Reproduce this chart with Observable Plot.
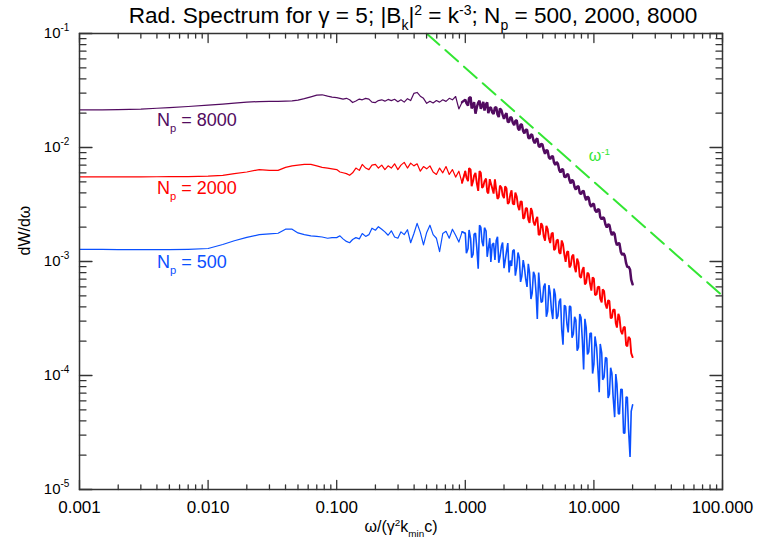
<!DOCTYPE html>
<html><head><meta charset="utf-8">
<script src="https://cdn.jsdelivr.net/npm/d3@7"></script>
<script src="https://cdn.jsdelivr.net/npm/@observablehq/plot@0.6"></script>
<style>body{margin:0;background:#fff;} svg{display:block;}</style>
</head><body><div id="chart"></div>
<script>
// ---- data ----
const omega = [
 0.001,0.0015,0.002,0.003,0.004,0.005,0.007,0.01,0.013,0.016,0.02,0.025,0.03,0.035,0.04,0.045,0.05,0.056,0.063,0.07,0.077,0.085,0.092,
 0.100,0.106,0.112,0.119,0.126,0.133,0.141,0.150,0.158,0.168,0.178,0.188,0.200,0.211,0.224,0.237,0.251,0.266,0.282,0.299,0.316,0.335,0.355,0.376,0.398,0.422,0.447,0.473,0.501,0.531,0.562,0.596,0.631,0.668,0.708,0.750,0.794,0.841,0.891,0.944,
 1.00,1.05,1.10,1.15,1.20,1.26,1.32,1.38,1.45,1.51,1.58,1.66,1.74,1.82,1.91,2.00,2.09,2.19,2.29,2.40,2.51,2.63,2.75,2.88,3.02,3.16,3.31,3.47,3.63,3.80,3.98,4.17,4.37,4.57,4.79,5.01,5.25,5.50,5.75,6.03,6.31,6.61,6.92,7.24,7.59,7.94,8.32,8.71,9.12,9.55,10.0,10.5,11.0,11.5,12.0,12.6,13.2,13.8,14.5,15.1,15.8,16.6,17.4,18.2,19.1,20.0
];
const dW8000 = [
 0.0214,0.0214,0.0215,0.0217,0.0221,0.0224,0.0229,0.0235,0.0240,0.0245,0.0250,0.0253,0.0254,0.0254,0.0255,0.0256,0.0260,0.0268,0.0278,0.0288,0.0290,0.0282,0.0277,
 0.0274,0.0270,0.0266,0.0270,0.0262,0.0248,0.0256,0.0266,0.0262,0.0270,0.0266,0.0250,0.0248,0.0258,0.0262,0.0255,0.0264,0.0258,0.0265,0.0252,0.0262,0.0250,0.0268,0.0258,0.0298,0.0304,0.0282,0.0270,0.0244,0.0255,0.0246,0.0258,0.0250,0.0262,0.0254,0.0270,0.0262,0.0280,0.0218,0.0250,
 0.0263,0.0233,0.0277,0.0234,0.0198,0.0247,0.0219,0.0251,0.0240,0.0200,0.0225,0.0197,0.0226,0.0185,0.0212,0.0178,0.0200,0.0168,0.0182,0.0157,0.0174,0.0142,0.0159,0.0133,0.0143,0.0120,0.0129,0.0109,0.0120,0.0101,0.0106,0.00881,0.00935,0.00791,0.00841,0.00703,0.00721,0.00603,0.00646,0.00550,0.00582,0.00484,0.00506,0.00427,0.00457,0.00389,0.00417,0.00345,0.00361,0.00302,0.00320,0.00270,0.00285,0.00234,0.00240,0.00199,0.00209,0.00170,0.00174,0.00139,0.00144,0.00114,0.00112,0.000891,0.000851,0.000631
];
const dW2000 = [
 0.00553,0.00553,0.00553,0.00553,0.00554,0.00555,0.00556,0.00560,0.00570,0.00590,0.00610,0.00640,0.00630,0.00630,0.00670,0.00690,0.00700,0.00710,0.00710,0.00690,0.00670,0.00660,0.00650,
 0.0064,0.0061,0.0060,0.0059,0.0057,0.0060,0.0066,0.0063,0.0071,0.0066,0.0064,0.0070,0.0071,0.0066,0.0070,0.0064,0.0069,0.0066,0.0072,0.0064,0.0070,0.0074,0.0066,0.0073,0.0069,0.0072,0.0062,0.0068,0.0065,0.0069,0.0061,0.0058,0.0066,0.0060,0.0068,0.0058,0.0064,0.0055,0.0062,0.0049,
 0.00621,0.00506,0.00638,0.00508,0.00600,0.00416,0.00601,0.00456,0.00535,0.00395,0.00486,0.00394,0.00422,0.00366,0.00446,0.00360,0.00439,0.00330,0.00421,0.00316,0.00372,0.00282,0.00335,0.00243,0.00293,0.00218,0.00275,0.00207,0.00246,0.00173,0.00206,0.00152,0.00192,0.00145,0.00179,0.00129,0.00156,0.00117,0.00142,0.000991,0.00123,0.000925,0.00115,0.000805,0.000979,0.000718,0.000893,0.000653,0.000776,0.000555,0.000706,0.000515,0.000603,0.000437,0.000550,0.000387,0.000449,0.000320,0.000378,0.000263,0.000325,0.000230,0.000268,0.000180,0.000210,0.000145
];
const dW500 = [
 0.00128,0.00128,0.00127,0.00127,0.00127,0.00127,0.00128,0.00130,0.00141,0.00152,0.00163,0.00172,0.00175,0.00177,0.00192,0.00192,0.00178,0.00172,0.00168,0.00166,0.00164,0.00160,0.00162,
 0.00162,0.00168,0.00158,0.00150,0.00146,0.00156,0.00162,0.00158,0.00176,0.00166,0.00172,0.00196,0.00188,0.00202,0.00192,0.00182,0.00170,0.00186,0.00164,0.00160,0.00182,0.00172,0.00190,0.00146,0.00175,0.00216,0.00180,0.00140,0.00180,0.00208,0.00172,0.00160,0.00122,0.00176,0.00184,0.00160,0.00192,0.00170,0.00148,0.00182,
 0.00177,0.00130,0.00158,0.00116,0.00178,0.000865,0.00200,0.00136,0.00185,0.00129,0.000991,0.00145,0.00153,0.000975,0.00136,0.000875,0.00122,0.000802,0.000912,0.00127,0.000887,0.00108,0.000741,0.000895,0.000598,0.000798,0.000525,0.000755,0.000313,0.000592,0.000447,0.000641,0.000366,0.000527,0.000313,0.000511,0.000333,0.000473,0.000186,0.000402,0.000239,0.000399,0.000231,0.000306,0.000177,0.000322,0.000113,0.000263,0.000161,0.000236,0.000126,0.000176,0.0000713,0.000158,0.0000966,0.000141,0.0000684,0.000105,0.0000431,0.0000847,0.000046,0.0000753,0.0000311,0.0000644,0.0000193,0.0000553
];
// extra samples in the dense (noisy) part, between the grid points above
const omegaFill = [1.02,1.07,1.12,1.17,1.23,1.29,1.35,1.41,1.48,1.55,1.62,1.70,1.78,1.86,1.95,2.04,2.14,2.24,2.34,2.45,2.57,2.69,2.82,2.95,3.09,3.24,3.39,3.55,3.72,3.89,4.07,4.27,4.47,4.68,4.90,5.13,5.37,5.62,5.89,6.17,6.46,6.76,7.08,7.41,7.76,8.13,8.51,8.91,9.33,9.77,10.2,10.7,11.2,11.7,12.3,12.9,13.5,14.1,14.8,15.5,16.2,17.0,17.8,18.6,19.5];
const dW8000Fill = [0.0245,0.0272,0.0220,0.0250,0.0226,0.0258,0.0232,0.0211,0.0249,0.0223,0.0203,0.0224,0.0195,0.0220,0.0194,0.0191,0.0167,0.0185,0.0165,0.0171,0.0147,0.0159,0.0139,0.0143,0.0122,0.0130,0.0115,0.0117,0.0103,0.0108,0.0095,0.00951,0.00817,0.0083,0.00735,0.00746,0.00637,0.00642,0.00553,0.00579,0.00516,0.00521,0.00449,0.00454,0.00400,0.00412,0.00369,0.00372,0.00315,0.00320,0.00283,0.00287,0.00245,0.00244,0.00211,0.00212,0.00185,0.00182,0.00150,0.00145,0.00121,0.00118,0.000966,0.000902,0.000692];
const dW2000Fill = [0.00548,0.00660,0.00458,0.00565,0.00483,0.00622,0.00441,0.00505,0.00410,0.00527,0.00438,0.00525,0.00354,0.00463,0.00382,0.00456,0.00320,0.00390,0.00321,0.00403,0.00305,0.00337,0.00237,0.00293,0.00233,0.00294,0.00222,0.00233,0.00171,0.00217,0.00167,0.00206,0.00159,0.00175,0.00126,0.00153,0.00120,0.00153,0.00115,0.00121,0.000887,0.00111,0.000888,0.00106,0.000739,0.000839,0.000628,0.000799,0.000641,0.000727,0.000508,0.000597,0.000473,0.000569,0.000421,0.000457,0.000319,0.000377,0.000287,0.000348,0.000246,0.000263,0.000185,0.000218,0.000157];
const dW500Fill = [0.00118,0.00189,0.00108,0.00173,0.00130,0.00208,0.00149,0.00198,0.00110,0.00160,0.00141,0.00103,0.00165,0.00110,0.00147,0.00101,0.00145,0.00102,0.00124,0.000752,0.00120,0.000663,0.00103,0.000699,0.000954,0.000469,0.000811,0.000533,0.000801,0.000438,0.000601,0.000328,0.000621,0.000370,0.000578,0.000313,0.000445,0.000253,0.000414,0.000283,0.000407,0.000215,0.000327,0.000165,0.000346,0.000205,0.000314,0.000153,0.000234,0.000104,0.000220,0.000123,0.000189,0.0000917,0.000144,0.0000635,0.000117,0.0000656,0.000103,0.0000463,0.0000759,0.0000313,0.0000647,0.0000337,0.0000484];
// omega^-1 reference line endpoints
const slopeOmega = [0.5, 100];
const slopeValue = [0.1, 0.0005];
// labels
const seriesNames = ["N_{p} = 8000", "N_{p} = 2000", "N_{p} = 500"];
const labelOmega = [0.004, 0.004, 0.004];
const labelValue = [0.0173, 0.00436, 0.00098];
const seriesColors = ["#520b60", "#ff0000", "#0a50ff"];
const xTicks = [0.001, 0.01, 0.1, 1, 10, 100];
const yTicks = [1e-5, 1e-4, 1e-3, 1e-2, 1e-1];
const titleText = "Rad. Spectrum for γ = 5; |B_{k}|^{2} = k^{-3}; N_{p} = 500, 2000, 8000";
const xLabel = "ω/(γ^{2}k_{min}c)";
const yLabel = "dW/dω";
const slopeLabel = "ω^{-1}";
const green = "#33e633";

// ---- build ----
const rows = (vals, fill) => omega.map((w, i) => ({w, v: vals[i]}))
  .concat(omegaFill.map((w, i) => ({w, v: fill[i]})))
  .sort((a, b) => a.w - b.w);
const slopeRows = slopeOmega.map((w, i) => ({w, v: slopeValue[i]}));
const labels = seriesNames.map((t, i) => ({t, w: labelOmega[i], v: labelValue[i], c: seriesColors[i]}));
const xMinor = [], yMinor = [];
for (let d = 0.001; d < 50; d *= 10) for (let m = 2; m <= 9; m++) xMinor.push(+(m * d).toPrecision(3));
for (let d = 1e-5; d < 0.05; d *= 10) for (let m = 2; m <= 9; m++) yMinor.push(+(m * d).toPrecision(3));
const axisColor = "#333";
const tickShape = {draw(ctx, l) { ctx.moveTo(0, 0); ctx.lineTo(0, -l); }};
const tick = (data, o, len) => Plot.vector(data, {...o, length: len, anchor: "start", shape: tickShape, stroke: axisColor, strokeWidth: 1.3});
// the noisy tail (omega >= ~1) is drawn a little heavier, as in the reference
const series = (vals, fill, color, wide) => {
  const r = rows(vals, fill);
  return [
    Plot.line(r.filter(d => d.w <= 1.0), {x: "w", y: "v", stroke: color, strokeWidth: 1.2}),
    Plot.line(r.filter(d => d.w >= 0.944), {x: "w", y: "v", stroke: color, strokeWidth: wide, strokeLinejoin: "miter"})
  ];
};

const plot = Plot.plot({
  width: 766, height: 539,
  marginLeft: 79, marginRight: 44, marginTop: 33, marginBottom: 50,
  style: {fontFamily: "'Liberation Sans', Arial, Helvetica, sans-serif", color: "#000", background: "#fff"},
  x: {type: "log", domain: [0.001, 100]},
  y: {type: "log", domain: [1e-5, 0.1], axis: null},
  marks: [
    ...series(dW500, dW500Fill, seriesColors[2], 1.6),
    ...series(dW2000, dW2000Fill, seriesColors[1], 1.9),
    ...series(dW8000, dW8000Fill, seriesColors[0], 2.5),
    Plot.line(slopeRows, {x: "w", y: "v", stroke: green, strokeWidth: 2, strokeDasharray: "17,8", clip: true}),
    Plot.frame({stroke: axisColor, strokeWidth: 1.5}),
    tick(xTicks, {x: d => d, y: () => 1e-5, rotate: 0}, 9),
    tick(xMinor, {x: d => d, y: () => 1e-5, rotate: 0}, 4.5),
    tick(xTicks, {x: d => d, y: () => 0.1, rotate: 180}, 9),
    tick(xMinor, {x: d => d, y: () => 0.1, rotate: 180}, 4.5),
    tick(yTicks, {x: () => 0.001, y: d => d, rotate: 90}, 12.5),
    tick(yMinor, {x: () => 0.001, y: d => d, rotate: 90}, 6.5),
    tick(yTicks, {x: () => 100, y: d => d, rotate: -90}, 12.5),
    tick(yMinor, {x: () => 100, y: d => d, rotate: -90}, 6.5),
    Plot.axisX({ticks: xTicks, tickSize: 0, tickPadding: 11, tickFormat: d3.format(".3f"), fontSize: 17, label: null}),
    Plot.text(yTicks, {y: d => d, frameAnchor: "left", text: () => "10", textAnchor: "end", dx: -19, fontSize: 15}),
    Plot.text(yTicks, {y: d => d, frameAnchor: "left", text: d => String(Math.round(Math.log10(d))), textAnchor: "start", dx: -19, dy: -6, fontSize: 10}),
    Plot.text([titleText], {text: d => d, frameAnchor: "top", lineAnchor: "middle", dx: 12, dy: -18, fontSize: 22.6}),
    Plot.text([xLabel], {text: d => d, frameAnchor: "bottom", lineAnchor: "middle", dy: 37, fontSize: 16}),
    Plot.text([yLabel], {text: d => d, frameAnchor: "left", lineAnchor: "middle", rotate: -90, dx: -55, dy: -6, fontSize: 16}),
    ...labels.map(l => Plot.text([l], {x: "w", y: "v", text: "t", fill: l.c, textAnchor: "start", fontSize: 18})),
    Plot.text([{t: slopeLabel, w: 9.1, v: 0.0085}], {x: "w", y: "v", text: "t", fill: green, textAnchor: "start", fontSize: 16})
  ]
});
document.getElementById("chart").appendChild(plot);

// turn ^{..} and _{..} into real superscript / subscript tspans
function markup(root) {
  root.querySelectorAll("text").forEach(t => {
    const s = t.textContent;
    if (!/[\^_]\{/.test(s)) return;
    const fs = parseFloat(getComputedStyle(t).fontSize) || 16;
    const parts = []; const re = /([\^_])\{([^}]*)\}/g; let last = 0, m;
    while ((m = re.exec(s))) {
      if (m.index > last) parts.push({t: s.slice(last, m.index), k: 0});
      parts.push({t: m[2], k: m[1] === "^" ? 1 : -1});
      last = re.lastIndex;
    }
    if (last < s.length) parts.push({t: s.slice(last), k: 0});
    while (t.firstChild) t.removeChild(t.firstChild);
    let cur = 0;
    for (const p of parts) {
      const target = p.k === 1 ? -0.36 * fs : p.k === -1 ? 0.32 * fs : 0;
      const ts = document.createElementNS("http://www.w3.org/2000/svg", "tspan");
      ts.setAttribute("dy", (target - cur).toFixed(2));
      cur = target;
      if (p.k) ts.setAttribute("font-size", (0.62 * fs).toFixed(1));
      ts.textContent = p.t;
      t.appendChild(ts);
    }
  });
}
markup(plot);
</script>
</body></html>
